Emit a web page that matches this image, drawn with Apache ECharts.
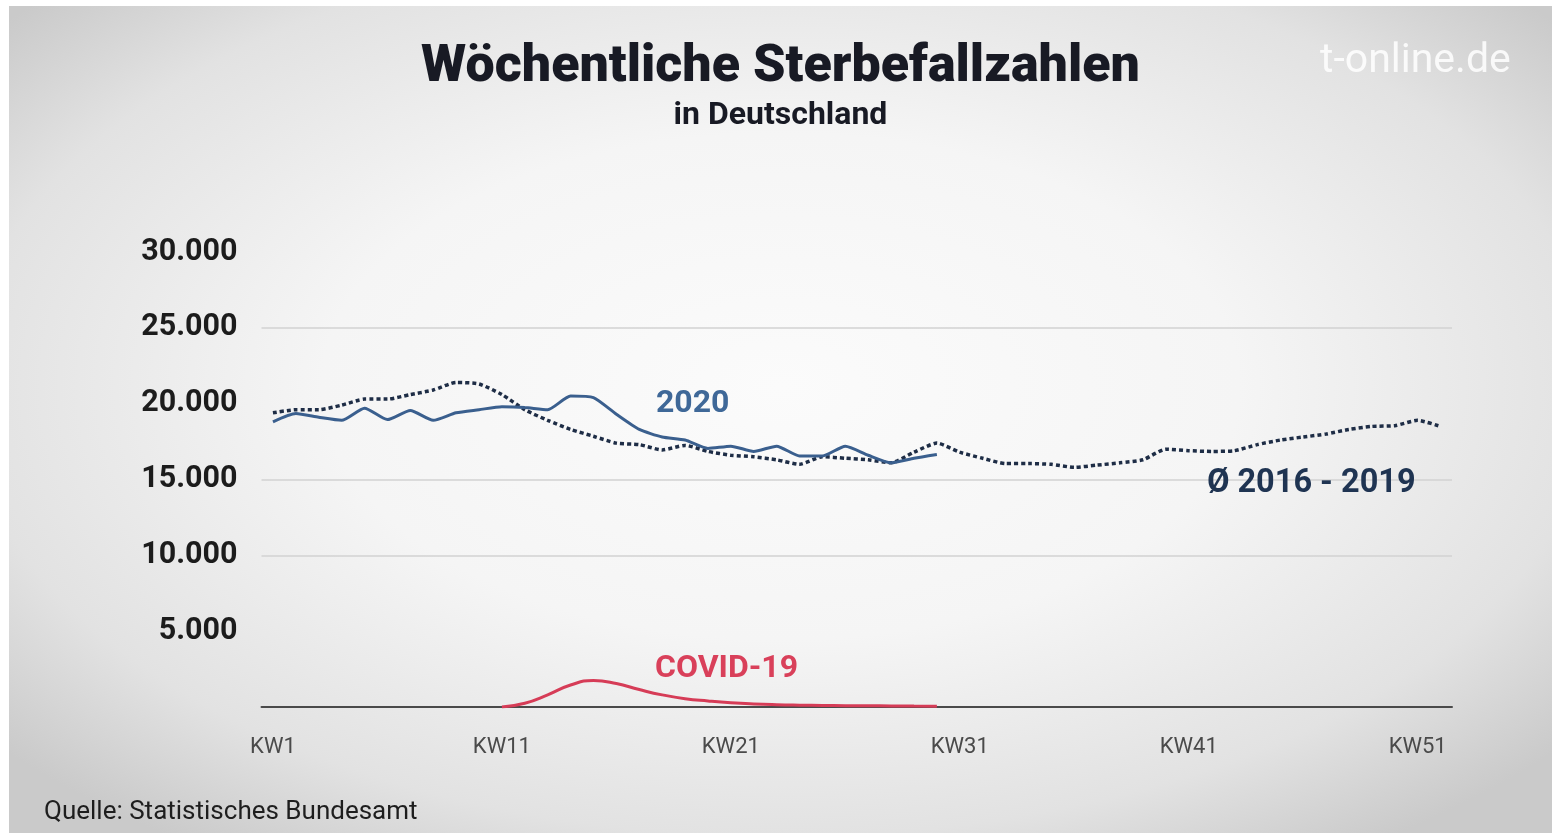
<!DOCTYPE html>
<html>
<head>
<meta charset="utf-8">
<script src="https://cdn.jsdelivr.net/npm/echarts@6/dist/echarts.min.js"></script>
<style>
  html, body { margin: 0; padding: 0; background: #fff; }
  #chart {
    position: absolute; left: 9px; top: 6px; width: 1543px; height: 827px;
    background: radial-gradient(ellipse 66% 68% at 50% 46%, #fbfbfb 0%, #f5f5f5 45%, #e2e2e2 80%, #cacaca 100%);
  }
</style>
</head>
<body>
<div id="chart"></div>
<script>
// Kalenderwochen
const weeks = [
  'KW1','KW2','KW3','KW4','KW5','KW6','KW7','KW8','KW9','KW10',
  'KW11','KW12','KW13','KW14','KW15','KW16','KW17','KW18','KW19','KW20',
  'KW21','KW22','KW23','KW24','KW25','KW26','KW27','KW28','KW29','KW30',
  'KW31','KW32','KW33','KW34','KW35','KW36','KW37','KW38','KW39','KW40',
  'KW41','KW42','KW43','KW44','KW45','KW46','KW47','KW48','KW49','KW50',
  'KW51','KW52'
]

// Sterbefälle 2020 (KW1 - KW30)
const deaths2020 = [
  18800, 19350, 19100, 18900, 19700, 18950, 19550, 18900, 19400, 19600,
  19800, 19750, 19600, 20500, 20400, 19300, 18300, 17800, 17600, 17050,
  17200, 16850, 17200, 16550, 16550, 17200, 16600, 16100, 16400, 16650
]

// Durchschnitt 2016 - 2019
const deathsAvg = [
  19400, 19600, 19600, 19900, 20300, 20300, 20600, 20900, 21400, 21300,
  20600, 19600, 18900, 18300, 17850, 17400, 17300, 16950, 17250, 16850,
  16600, 16500, 16300, 16000, 16500, 16400, 16300, 16100, 16800, 17400,
  16800, 16400, 16050, 16050, 16000, 15800, 15950, 16100, 16300, 17000,
  16900, 16850, 16900, 17300, 17600, 17800, 18000, 18300, 18500, 18550,
  18900, 18500
]

// COVID-19 Todesfälle (ab KW11)
const deathsCovid = [
  null, null, null, null, null, null, null, null, null, null,
  0, 250, 800, 1450, 1750, 1550, 1150, 800, 550, 400,
  280, 200, 150, 120, 100, 90, 80, 70, 60, 50
]

// sichtbare Hilfslinien
const gridValues = [10000, 15000, 25000]

const FONT = 'Roboto, "Noto Sans", sans-serif'

const fmt = v => String(v).replace(/\B(?=(\d{3})+(?!\d))/g, '.')

const chart = echarts.init(document.getElementById('chart'))

chart.setOption({
  backgroundColor: 'transparent',
  animation: false,
  grid: { left: 252.5, right: 100, top: 246, bottom: 126, containLabel: false },
  xAxis: {
    type: 'category',
    data: weeks,
    boundaryGap: true,
    axisLine: { lineStyle: { color: '#4a4a4a', width: 2 } },
    axisTick: { interval: 9, alignWithLabel: true, length: 17, lineStyle: { color: '#4a4a4a', width: 1.5 } },
    axisLabel: { interval: 9, margin: 29, color: '#4a4a4a', fontSize: 22, fontFamily: FONT },
    splitLine: { show: false }
  },
  yAxis: {
    type: 'value',
    min: 0,
    max: 30000,
    interval: 5000,
    axisLine: { show: false },
    axisTick: { show: false },
    splitLine: { show: false },
    axisLabel: {
      align: 'right',
      margin: 24,
      color: '#1c1c1c',
      fontSize: 30.5,
      fontWeight: 'bold',
      fontFamily: FONT,
      padding: [12, 0, 0, 0],
      formatter: v => (v === 0 ? '' : fmt(v))
    }
  },
  series: [
    {
      name: 'Ø 2016 - 2019',
      type: 'line',
      data: deathsAvg,
      symbol: 'none',
      smooth: 0.2,
      lineStyle: { color: '#1e2d46', width: 3.5, type: [4, 3] },
      z: 3,
      markLine: {
        silent: true,
        symbol: 'none',
        label: { show: false },
        lineStyle: { color: '#d2d2d2', width: 1.5, type: 'solid' },
        data: gridValues.map(v => ({ yAxis: v }))
      }
    },
    {
      name: '2020',
      type: 'line',
      data: deaths2020,
      symbol: 'none',
      smooth: 0.2,
      lineStyle: { color: '#3a5f8e', width: 3 },
      z: 4
    },
    {
      name: 'COVID-19',
      type: 'line',
      data: deathsCovid,
      symbol: 'none',
      smooth: 0.5,
      lineStyle: { color: '#d63c57', width: 3 },
      z: 4
    }
  ],
  graphic: [
    {
      type: 'text', left: 'center', top: 36, z: 100,
      style: { text: 'Wöchentliche Sterbefallzahlen', fill: '#181a24', font: `900 52px ${FONT}` }
    },
    {
      type: 'text', left: 'center', top: 94, z: 100,
      style: { text: 'in Deutschland', fill: '#181a24', font: `bold 32px ${FONT}` }
    },
    {
      type: 'text', left: 1311, top: 35, z: 100,
      style: { text: 't-online.de', fill: 'rgba(255,255,255,0.85)', font: `41px ${FONT}` }
    },
    {
      type: 'text', left: 647, top: 382, z: 100,
      style: { text: '2020', fill: '#3f6898', font: `bold 32px ${FONT}` }
    },
    {
      type: 'text', left: 1198, top: 461, z: 100,
      style: { text: 'Ø 2016 - 2019', fill: '#1f3452', font: `bold 32.5px ${FONT}` }
    },
    {
      type: 'text', left: 646, top: 647, z: 100,
      style: { text: 'COVID-19', fill: '#d9405a', font: `bold 32px ${FONT}` }
    },
    {
      type: 'text', left: 35, top: 793, z: 100,
      style: { text: 'Quelle: Statistisches Bundesamt', fill: '#1e1e1e', font: `26px ${FONT}` }
    }
  ]
})
</script>
</body>
</html>
